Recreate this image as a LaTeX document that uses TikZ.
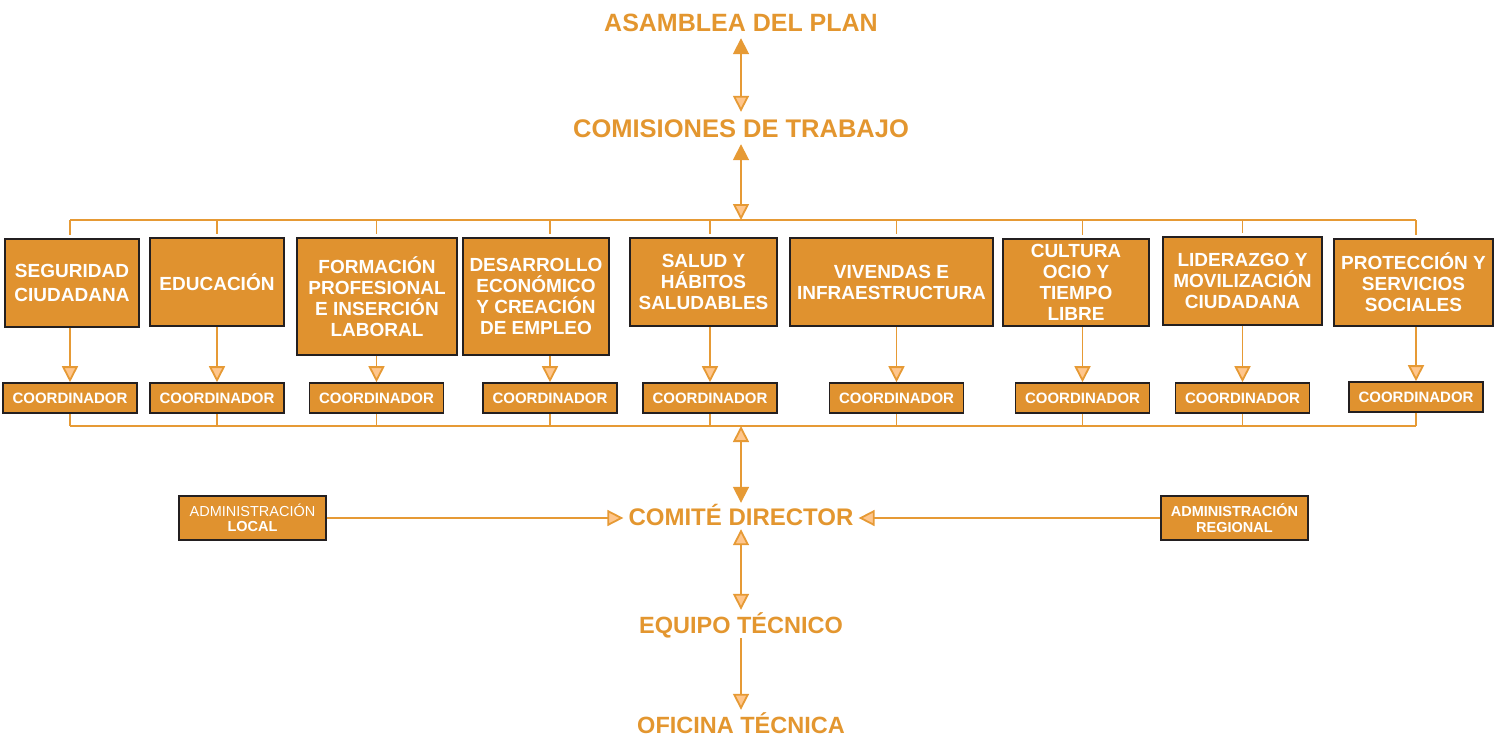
\documentclass[tikz,border=0pt]{standalone}
\usepackage{fontspec}
\setmainfont{Liberation Sans}
\usetikzlibrary{arrows.meta}

\definecolor{boxorange}{HTML}{E0922F}
\definecolor{titleorange}{HTML}{E3962F}
\definecolor{lineorange}{HTML}{E69A35}
\definecolor{tippeach}{HTML}{FFC68C}
\definecolor{boxborder}{HTML}{231F20}

\tikzset{
  area/.style={draw=boxborder, line width=1.6pt, fill=boxorange, text=white,
    inner sep=0pt, align=center, font=\fontsize{19}{21}\selectfont\bfseries},
  coordbox/.style={area, minimum width=134, minimum height=30,
    font=\fontsize{15}{15}\selectfont\bfseries},
  adminbox/.style={area, minimum width=147, minimum height=44,
    font=\fontsize{14.5}{15.5}\selectfont\bfseries},
  titletext/.style={text=titleorange, font=\fontsize{25}{25}\selectfont\bfseries,
    text height=18pt, text depth=0pt, inner xsep=5pt, inner ysep=7pt},
  link/.style={draw=lineorange, line width=1.8pt},
  solidhead/.tip={Triangle[length=16pt,width=16pt]},
  openhead/.tip={Triangle[length=16pt,width=16pt,fill=tippeach]},
}

\begin{document}
\begin{tikzpicture}[x=1pt,y=-1pt]
        \useasboundingbox (0,0) rectangle (1494,742);
        % top of the chart
        \node[titletext] (asam) at (741,22) {ASAMBLEA DEL PLAN};
        \node[titletext, font=\fontsize{25.5}{25.5}\selectfont\bfseries] (comis) at (741,128) {COMISIONES DE TRABAJO};
        \coordinate (bust) at (741,220);
        \coordinate (busb) at (741,426);
        % working areas
        \node[area, minimum width=134, minimum height=88, font=\fontsize{19}{24}\selectfont\bfseries] (seg) at (72,283) {SEGURIDAD\\CIUDADANA};
        \node[area, minimum width=134, minimum height=88] (edu) at (217,282) {EDUCACIÓN};
        \node[area, minimum width=160, minimum height=117] (form) at (377,296.5) {FORMACIÓN\\PROFESIONAL\\E INSERCIÓN\\LABORAL};
        \node[area, minimum width=146, minimum height=117] (desa) at (536,296.5) {DESARROLLO\\ECONÓMICO\\Y CREACIÓN\\DE EMPLEO};
        \node[area, minimum width=147, minimum height=88] (salud) at (703.5,282) {SALUD Y\\HÁBITOS\\SALUDABLES};
        \node[area, minimum width=203, minimum height=88] (viv) at (891.5,282) {VIVENDAS E\\INFRAESTRUCTURA};
        \node[area, minimum width=146, minimum height=87] (cult) at (1076,282.5) {CULTURA\\OCIO Y\\TIEMPO\\LIBRE};
        \node[area, minimum width=159, minimum height=88] (lid) at (1242.5,281) {LIDERAZGO Y\\MOVILIZACIÓN\\CIUDADANA};
        \node[area, minimum width=159, minimum height=87] (prot) at (1413.5,282.5) {PROTECCIÓN Y\\SERVICIOS\\SOCIALES};
        % coordinators
        \node[coordbox] (cseg) at (70,398) {COORDINADOR};
        \node[coordbox] (cedu) at (217,398) {COORDINADOR};
        \node[coordbox] (cform) at (376.5,398) {COORDINADOR};
        \node[coordbox] (cdesa) at (550,398) {COORDINADOR};
        \node[coordbox] (csalud) at (710,398) {COORDINADOR};
        \node[coordbox] (cviv) at (896.5,398) {COORDINADOR};
        \node[coordbox] (ccult) at (1082.5,398) {COORDINADOR};
        \node[coordbox] (clid) at (1242.5,398) {COORDINADOR};
        \node[coordbox] (cprot) at (1416,397) {COORDINADOR};
        % bottom of the chart
        \node[titletext, font=\fontsize{24}{24}\selectfont\bfseries, inner ysep=4pt] (comite) at (741,516) {COMITÉ DIRECTOR};
        \node[titletext, font=\fontsize{23.5}{23.5}\selectfont\bfseries, inner ysep=5pt] (equipo) at (741,624) {EQUIPO TÉCNICO};
        \node[titletext, font=\fontsize{23.5}{23.5}\selectfont\bfseries, inner ysep=5pt] (oficina) at (741,724) {OFICINA TÉCNICA};
        \node[adminbox] (adlocal) at (252.5,518) {{\mdseries ADMINISTRACIÓN}\\LOCAL};
        \node[adminbox] (adreg) at (1234.5,518) {ADMINISTRACIÓN\\REGIONAL};
        % connectors above the areas
        \draw[link, solidhead-openhead] (asam) -- (comis);
        \draw[link, solidhead-openhead] (comis) -- (bust);
        \draw[link] (cseg |- bust) -- (cprot |- bust);
        % routine for ticks
        \draw[link, shorten >=3pt] (cseg |- bust) -- (cseg |- seg.north);
        \draw[link, shorten >=3pt] (cedu |- bust) -- (cedu |- edu.north);
        \draw[link, shorten >=3pt] (cform |- bust) -- (cform |- form.north);
        \draw[link, shorten >=3pt] (cdesa |- bust) -- (cdesa |- desa.north);
        \draw[link, shorten >=3pt] (csalud |- bust) -- (csalud |- salud.north);
        \draw[link, shorten >=3pt] (cviv |- bust) -- (cviv |- viv.north);
        \draw[link, shorten >=3pt] (ccult |- bust) -- (ccult |- cult.north);
        \draw[link, shorten >=3pt] (clid |- bust) -- (clid |- lid.north);
        \draw[link, shorten >=3pt] (cprot |- bust) -- (cprot |- prot.north);
        % areas down to their coordinators
        \draw[link, -openhead] (cseg |- seg.south) -- (cseg.north);
        \draw[link, -openhead] (cedu |- edu.south) -- (cedu.north);
        \draw[link, -openhead] (cform |- form.south) -- (cform.north);
        \draw[link, -openhead] (cdesa |- desa.south) -- (cdesa.north);
        \draw[link, -openhead] (csalud |- salud.south) -- (csalud.north);
        \draw[link, -openhead] (cviv |- viv.south) -- (cviv.north);
        \draw[link, -openhead] (ccult |- cult.south) -- (ccult.north);
        \draw[link, -openhead] (clid |- lid.south) -- (clid.north);
        \draw[link, -openhead] (cprot |- prot.south) -- (cprot.north);
        % coordinators to the lower bus
        \draw[link] (cseg.south) -- (cseg |- busb);
        \draw[link] (cedu.south) -- (cedu |- busb);
        \draw[link] (cform.south) -- (cform |- busb);
        \draw[link] (cdesa.south) -- (cdesa |- busb);
        \draw[link] (csalud.south) -- (csalud |- busb);
        \draw[link] (cviv.south) -- (cviv |- busb);
        \draw[link] (ccult.south) -- (ccult |- busb);
        \draw[link] (clid.south) -- (clid |- busb);
        \draw[link] (cprot.south) -- (cprot |- busb);
        \draw[link] (cseg |- busb) -- (cprot |- busb);
        % connectors below
        \draw[link, openhead-solidhead] (busb) -- (comite);
        \draw[link, -openhead] (adlocal.east) -- (adlocal.east -| comite.west);
        \draw[link, -openhead] (adreg.west) -- (adreg.west -| comite.east);
        \draw[link, openhead-openhead] (comite) -- (equipo);
        \draw[link, -openhead] (equipo) -- (oficina);
      \end{tikzpicture}
\end{document}
